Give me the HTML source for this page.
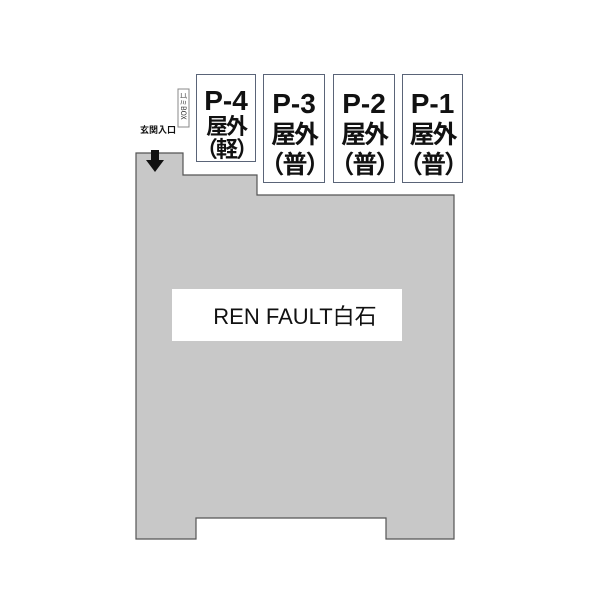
<!DOCTYPE html>
<html><head><meta charset="utf-8"><style>
body{margin:0;width:600px;height:600px;background:#fff;position:relative;overflow:hidden;font-family:"Liberation Sans","Noto Sans CJK JP",sans-serif}
.b{position:absolute;border:1.5px solid #5a6478;background:#fff;box-sizing:border-box;text-align:center;font-weight:bold;color:#111}
.t{position:absolute;left:-10px;right:-10px;text-align:center;white-space:nowrap;font-weight:bold;color:#111}
.p{font-family:"Liberation Sans",sans-serif;font-size:28px;line-height:27px}
.c{font-family:"Noto Sans CJK JP",sans-serif;font-size:25px;line-height:28px;letter-spacing:-2px}
</style></head><body>
<svg width="600" height="600" style="position:absolute;left:0;top:0">
<polygon points="136,153 183,153 183,175 257,175 257,195 454,195 454,539 386,539 386,518 196,518 196,539 136,539" fill="#c8c8c8" stroke="#555" stroke-width="1.2"/>
<rect x="172" y="289" width="230" height="52" fill="#fff"/>
<text x="295" y="324" text-anchor="middle" font-family="Liberation Sans, Noto Sans CJK JP, sans-serif" font-size="22" fill="#111">REN FAULT白石</text>
<rect x="151" y="150" width="8" height="11" fill="#111"/>
<polygon points="146,160 164,160 155,172" fill="#111"/>
<text x="158" y="133" text-anchor="middle" font-family="Noto Sans CJK JP, sans-serif" font-size="9" font-weight="bold" fill="#111">玄関入口</text>
<rect x="178" y="89" width="11" height="38" fill="#fff" stroke="#888" stroke-width="1"/>
<text transform="translate(181,92) rotate(90)" font-family="Noto Sans CJK JP, sans-serif" font-size="7" fill="#333">ゴミBOX</text>
</svg>
<div class="b" style="left:196px;top:74px;width:60px;height:88px">
 <div class="t p" style="top:12px">P-4</div>
 <div class="t c" style="top:36px;font-size:22px">屋外</div>
 <div class="t c" style="top:59px;font-size:22px">（軽）</div>
</div>
<div class="b" style="left:263px;top:74px;width:62px;height:109px">
 <div class="t p" style="top:15px">P-3</div>
 <div class="t c" style="top:44px">屋外</div>
 <div class="t c" style="top:74px">（普）</div>
</div>
<div class="b" style="left:333px;top:74px;width:62px;height:109px">
 <div class="t p" style="top:15px">P-2</div>
 <div class="t c" style="top:44px">屋外</div>
 <div class="t c" style="top:74px">（普）</div>
</div>
<div class="b" style="left:402px;top:74px;width:61px;height:109px">
 <div class="t p" style="top:15px">P-1</div>
 <div class="t c" style="top:44px">屋外</div>
 <div class="t c" style="top:74px">（普）</div>
</div>
</body></html>
